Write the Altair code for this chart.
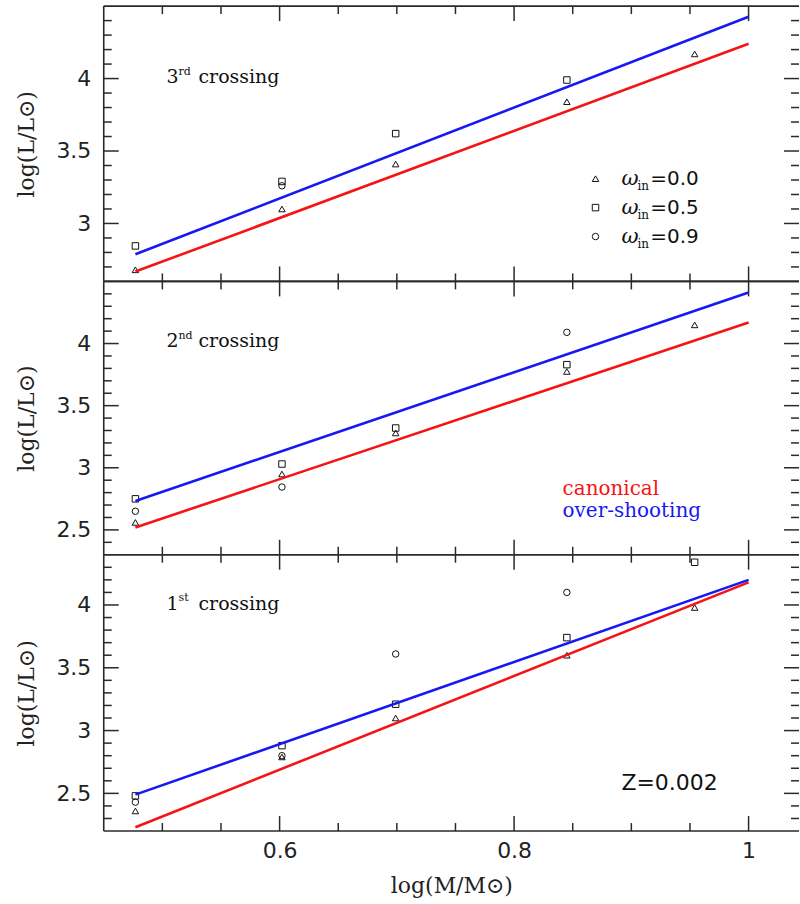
import altair as alt
import pandas as pd

# log(M/Msun) of the model masses (3, 4, 5, 7, 9 Msun)
LOGM = [0.477, 0.602, 0.699, 0.845, 0.954]
# end points of the fitted relations
FIT_X = [0.477, 1.0]

# 3rd crossing
C3_W00 = [2.68, 3.10, 3.41, 3.84, 4.17]
C3_W05 = [2.845, 3.29, 3.62, 3.99, None]
C3_W09 = [None, 3.26, None, None, None]
C3_CANON = [2.668, 4.24]
C3_OVER = [2.787, 4.427]

# 2nd crossing
C2_W00 = [2.56, 2.95, 3.28, 3.775, 4.15]
C2_W05 = [2.75, 3.03, 3.32, 3.83, None]
C2_W09 = [2.65, 2.845, None, 4.09, None]
C2_CANON = [2.52, 4.17]
C2_OVER = [2.733, 4.41]

# 1st crossing
C1_W00 = [2.36, 2.79, 3.10, 3.60, 3.98]
C1_W05 = [2.48, 2.88, 3.21, 3.74, 4.34]
C1_W09 = [2.43, 2.80, 3.61, 4.10, None]
C1_CANON = [2.23, 4.18]
C1_OVER = [2.49, 4.20]

X_DOMAIN = [0.45, 1.043]
X_MAJOR = [0.6, 0.8, 1.0]
X_MINOR = [0.5, 0.55, 0.65, 0.7, 0.75, 0.85, 0.9, 0.95]
Y_MAJOR = [2.5, 3.0, 3.5, 4.0]
Y_MINOR = [2.2, 2.3, 2.4, 2.6, 2.7, 2.8, 2.9, 3.1, 3.2, 3.3, 3.4,
           3.6, 3.7, 3.8, 3.9, 4.1, 4.2, 4.3, 4.4]

OMEGA = ["0.0", "0.5", "0.9"]
SHAPES = ["triangle-up", "square", "circle"]
MODELS = ["canonical", "over-shooting"]
MODEL_COLORS = ["#f41414", "#1818f2"]

W = 697
INK = "#2a2a2a"
SERIF = "DejaVu Serif"
SANS = "DejaVu Sans"
MAJ, MINR = 15, 8


def one_row(text=""):
    return pd.DataFrame({"t": [text]})


def label(text, x, y, size, font=SERIF, color="#111", style="normal",
          baseline="alphabetic"):
    return alt.Chart(one_row(text)).mark_text(
        align="left", baseline=baseline, font=font, fontSize=size,
        color=color, fontStyle=style
    ).encode(text="t:N", x=alt.value(x), y=alt.value(y))


def panel(w00, w05, w09, canon, over, ydom, height, notes, bottom=False):
    xs = alt.Scale(domain=X_DOMAIN, nice=False, zero=False)
    ys = alt.Scale(domain=ydom, nice=False, zero=False)
    lo, hi = ydom

    pts = []
    for om, vals in zip(OMEGA, [w00, w05, w09]):
        for m, v in zip(LOGM, vals):
            if v is not None:
                pts.append({"logm": m, "logl": v, "omega": om})
    pts = pd.DataFrame(pts)

    fits = pd.DataFrame(
        [{"logm": m, "logl": v, "model": MODELS[0]} for m, v in zip(FIT_X, canon)]
        + [{"logm": m, "logl": v, "model": MODELS[1]} for m, v in zip(FIT_X, over)]
    )

    yaxis = alt.Axis(values=Y_MAJOR, format="~g", ticks=False, tickSize=0,
                     domain=False, grid=False, labelFont=SANS,
                     labelFontSize=22, labelColor="#222", labelPadding=13,
                     title="log(L/L⊙)", titleFont=SERIF, titleFontSize=22,
                     titleFontWeight="normal", titleColor="#222",
                     titlePadding=17)
    if bottom:
        xaxis = alt.Axis(values=X_MAJOR, format="~g", ticks=False, tickSize=0,
                         domain=False, grid=False, labelFont=SANS,
                         labelFontSize=22, labelColor="#222", labelPadding=10,
                         title="log(M/M⊙)", titleFont=SERIF, titleFontSize=22,
                         titleFontWeight="normal", titleColor="#222",
                         titlePadding=14)
    else:
        xaxis = None

    def X(field):
        return alt.X(field, scale=xs, axis=xaxis)

    def Y(field):
        return alt.Y(field, scale=ys, axis=yaxis)

    points = alt.Chart(pts).mark_point(filled=False, color="#111",
                                       strokeWidth=1, size=42, opacity=1).encode(
        x=X("logm:Q"),
        y=Y("logl:Q"),
        shape=alt.Shape("omega:N", scale=alt.Scale(domain=OMEGA, range=SHAPES),
                        legend=None),
    )

    lines = alt.Chart(fits).mark_line(strokeWidth=2.6).encode(
        x=X("logm:Q"),
        y=Y("logl:Q"),
        color=alt.Color("model:N", scale=alt.Scale(domain=MODELS, range=MODEL_COLORS),
                        legend=None),
    )

    yt_major = pd.DataFrame({"v": [v for v in Y_MAJOR if lo < v < hi]})
    yt_minor = pd.DataFrame({"v": [v for v in Y_MINOR if lo < v < hi]})
    xt_major = pd.DataFrame({"v": X_MAJOR})
    xt_minor = pd.DataFrame({"v": X_MINOR})

    def yticks(df, length):
        left = alt.Chart(df).mark_rule(color=INK, strokeWidth=1.5).encode(
            y=Y("v:Q"), x=alt.value(0), x2=alt.value(length))
        right = alt.Chart(df).mark_rule(color=INK, strokeWidth=1.5).encode(
            y=Y("v:Q"), x=alt.value(W - length), x2=alt.value(W))
        return [left, right]

    def xticks(df, length):
        top = alt.Chart(df).mark_rule(color=INK, strokeWidth=1.5).encode(
            x=X("v:Q"), y=alt.value(0), y2=alt.value(length))
        bot = alt.Chart(df).mark_rule(color=INK, strokeWidth=1.5).encode(
            x=X("v:Q"), y=alt.value(height - length), y2=alt.value(height))
        return [top, bot]

    frame = [
        alt.Chart(one_row()).mark_rule(color=INK, strokeWidth=1.6).encode(
            x=alt.value(0), y=alt.value(0), y2=alt.value(height)),
        alt.Chart(one_row()).mark_rule(color=INK, strokeWidth=1.6).encode(
            x=alt.value(0), x2=alt.value(W), y=alt.value(0)),
        alt.Chart(one_row()).mark_rule(color=INK, strokeWidth=1.6).encode(
            x=alt.value(0), x2=alt.value(W), y=alt.value(height)),
    ]

    layers = ([points] + frame + yticks(yt_major, MAJ) + yticks(yt_minor, MINR)
              + xticks(xt_major, MAJ) + xticks(xt_minor, MINR) + [lines] + notes)
    return alt.layer(*layers).properties(width=W, height=height)


def crossing(num, sup, y, sup_y):
    return [
        label(num, 63, y, 19),
        label(sup, 75, sup_y, 11),
        label("crossing", 95, y, 19),
    ]


legend_rows = []
for om, shp, yy in zip(OMEGA, SHAPES, [173, 202, 231]):
    legend_rows += [
        alt.Chart(one_row()).mark_point(filled=False, color="#111", strokeWidth=1,
                                        size=42, shape=shp, opacity=1).encode(
            x=alt.value(493), y=alt.value(yy)),
        label("ω", 519, yy, 21, style="italic", baseline="middle"),
        label("in", 535, yy + 7, 12, baseline="middle"),
        label("=" + om, 548, yy, 20, font=SANS, baseline="middle"),
    ]

p3 = panel(C3_W00, C3_W05, C3_W09, C3_CANON, C3_OVER, [2.6, 4.5], 276,
           crossing("3", "rd", 77, 69) + legend_rows)
p2 = panel(C2_W00, C2_W05, C2_W09, C2_CANON, C2_OVER, [2.3, 4.5], 274,
           crossing("2", "nd", 66, 58) + [
               label("canonical", 460, 214, 20, color=MODEL_COLORS[0]),
               label("over-shooting", 460, 236, 20, color=MODEL_COLORS[1]),
           ])
p1 = panel(C1_W00, C1_W05, C1_W09, C1_CANON, C1_OVER, [2.2, 4.4], 277,
           crossing("1", "st", 55, 46) + [
               label("Z=0.002", 519, 236, 22, font=SANS),
           ], bottom=True)

chart = alt.vconcat(p3, p2, p1, spacing=0, bounds="flush").properties(
    padding={"left": 16, "top": 4, "right": 0, "bottom": 0},
    background="white",
).configure_view(stroke=None).configure_concat(spacing=0)

chart.save("out.html", embed_options={"renderer": "svg", "actions": False})
